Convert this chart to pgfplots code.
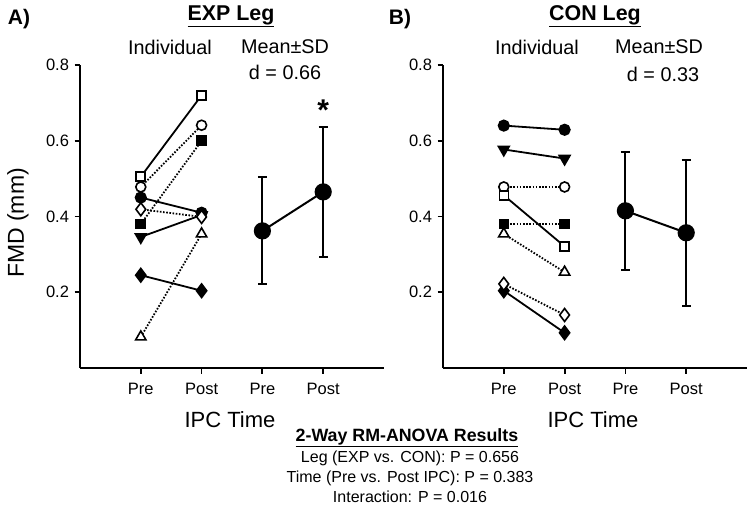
\documentclass[border=0pt]{standalone}
\usepackage{fontspec}
\setmainfont{Liberation Sans}
\usepackage{pgfplots}
\pgfplotsset{compat=1.18}
\newcommand{\fs}[1]{\fontsize{#1}{#1}\selectfont}
\begin{document}
\begin{tikzpicture}[x=1pt,y=1pt]
\useasboundingbox (0pt,0pt) rectangle (750pt,512pt);
\pgfplotsset{
  panel/.style={
    scale only axis, width=304pt, height=303pt,
    xmin=0, xmax=5, ymin=0, ymax=0.8,
    axis x line*=bottom, axis y line*=left,
    axis line style={line width=2pt},
    every tick/.style={line width=1.8pt, black},
    tick align=outside, major tick length=5.5pt,
    xtick={1,2,3,4}, xticklabels={Pre,Post,Pre,Post},
    ytick={0.2,0.4,0.6,0.8},
    yticklabel style={xshift=-2pt, /pgf/number format/.cd, fixed, fixed zerofill, precision=1},
    xticklabel style={yshift=-6pt},
    /pgf/number format/assume math mode=true,
    tick label style={font=\fs{16.5}},
    clip=false,
  },
  ind/.style={black, line width=1.8pt},
  dotl/.style={dash pattern=on 1.6pt off 1.6pt},
  osq/.style={mark=square*, mark size=4.5pt, mark options={solid, line width=1.6pt, fill=white}},
  fsq/.style={mark=square*, mark size=4.5pt, mark options={solid, line width=1.6pt, fill=black}},
  oci/.style={mark=*, mark size=5pt, mark options={solid, line width=1.6pt, fill=white}},
  fci/.style={mark=*, mark size=5.3pt, mark options={solid, line width=1.6pt, fill=black}},
  odi/.style={mark=diamond*, mark size=6.5pt, mark options={solid, line width=1.6pt, fill=white}},
  fdi/.style={mark=diamond*, mark size=6.8pt, mark options={solid, line width=1.6pt, fill=black}},
  otr/.style={mark=triangle*, mark size=6pt, mark options={solid, line width=1.6pt, fill=white}},
  ftr/.style={mark=triangle*, mark size=6.3pt, mark options={solid, line width=1.6pt, fill=black, rotate=180}},
  meanp/.style={black, line width=2pt, mark=*, mark size=7.6pt,
    error bars/.cd, y dir=both, y explicit,
    error bar style={line width=2pt},
    error mark options={rotate=90, mark size=4.5pt, line width=2pt}},
}
% Panel A
\begin{axis}[panel, at={(80pt,144pt)}, anchor=south west]
\addplot[ind, ftr] coordinates {(1,0.346) (2,0.404)};
\addplot[ind, fdi] coordinates {(1,0.245) (2,0.204)};
\addplot[ind, dotl, otr] coordinates {(1,0.082) (2,0.354)};
\addplot[ind, dotl, fsq] coordinates {(1,0.380) (2,0.600)};
\addplot[ind, fci] coordinates {(1,0.450) (2,0.410)};
\addplot[ind, dotl, odi] coordinates {(1,0.419) (2,0.399)};
\addplot[ind, dotl, oci] coordinates {(1,0.478) (2,0.641)};
\addplot[ind, osq] coordinates {(1,0.505) (2,0.720)};
\addplot[meanp] coordinates {(3,0.362) +- (0,0.141) (4,0.465) +- (0,0.171)};
\node[font=\fs{30}\bfseries] at (axis cs:4,0.682) {*};
\end{axis}
% Panel B
\begin{axis}[panel, at={(443pt,144pt)}, anchor=south west]
\addplot[ind, fci] coordinates {(1,0.640) (2,0.629)};
\addplot[ind, ftr] coordinates {(1,0.577) (2,0.553)};
\addplot[ind, dotl, oci] coordinates {(1,0.478) (2,0.478)};
\addplot[ind, dotl, fsq] coordinates {(1,0.380) (2,0.380)};
\addplot[ind, osq] coordinates {(1,0.456) (2,0.321)};
\addplot[ind, dotl, otr] coordinates {(1,0.354) (2,0.253)};
\addplot[ind, fdi] coordinates {(1,0.204) (2,0.093)};
\addplot[ind, dotl, odi] coordinates {(1,0.222) (2,0.140)};
\addplot[meanp] coordinates {(3,0.415) +- (0,0.156) (4,0.357) +- (0,0.193)};
\end{axis}
% texts
\node[font=\fs{21}\bfseries] at (19pt,493pt) {A)};
\node[font=\fs{21}\bfseries] at (400pt,493pt) {B)};
\node[font=\fs{21.4}\bfseries] at (231pt,496pt) {\underline{EXP Leg}};
\node[font=\fs{21.4}\bfseries] at (595pt,496pt) {\underline{CON Leg}};
\node[font=\fs{19.8}] at (170pt,465pt) {Individual};
\node[font=\fs{19.8}] at (285pt,465pt) {Mean±SD};
\node[font=\fs{19.8}] at (285pt,440pt) {d = 0.66};
\node[font=\fs{19.8}] at (537pt,465pt) {Individual};
\node[font=\fs{19.8}] at (659pt,465pt) {Mean±SD};
\node[font=\fs{19.8}] at (663pt,438pt) {d = 0.33};
\node[font=\fs{23}, rotate=90] at (18pt,289pt) {FMD (mm)};
\node[font=\fs{22}] at (230pt,92pt) {IPC Time};
\node[font=\fs{22}] at (593pt,92pt) {IPC Time};
\node[font=\fs{17.8}\bfseries] at (407pt,74pt) {\underline{2-Way RM-ANOVA Results}};
\node[font=\fs{16}] at (410pt,54pt) {Leg (EXP vs. CON): P = 0.656};
\node[font=\fs{16}] at (410pt,34pt) {Time (Pre vs. Post IPC): P = 0.383};
\node[font=\fs{16}] at (410pt,15pt) {Interaction: P = 0.016};
\end{tikzpicture}
\end{document}
